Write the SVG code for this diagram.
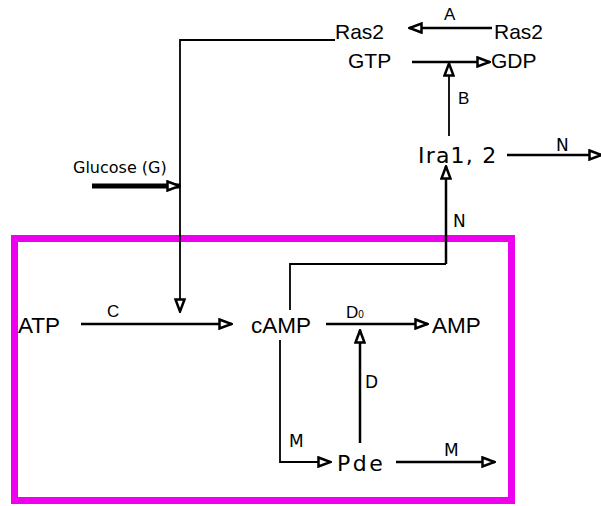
<svg xmlns="http://www.w3.org/2000/svg" width="601" height="506" viewBox="0 0 601 506">
<style>
.a{font-family:"Liberation Sans",Arial,sans-serif;fill:#000}
.d{font-family:"DejaVu Sans",sans-serif;fill:#000}
.ln{fill:none;stroke:#000;stroke-width:2.5}
.th{fill:none;stroke:#000;stroke-width:1.8}
</style>
<defs>
<marker id="h" viewBox="0 0 15 12" refX="14" refY="6" markerWidth="15" markerHeight="12" markerUnits="userSpaceOnUse" orient="auto">
<path d="M1.5,1.5 L13.5,6 L1.5,10.5 Z" fill="#fff" stroke="#000" stroke-width="2.5" stroke-linejoin="miter"/>
</marker>
</defs>
<rect x="14.5" y="238.5" width="497" height="262" fill="none" stroke="#ee00ee" stroke-width="7"/>
<g id="connectors">
<path class="ln" d="M492,28 L409,28" marker-end="url(#h)"/>
<path class="ln" d="M412,62 L490,62" marker-end="url(#h)"/>
<path class="th" d="M449,136 L449,63" marker-end="url(#h)"/>
<path class="th" d="M335,40 L180,40 L180,312" marker-end="url(#h)"/>
<path d="M92,186 L180,186" fill="none" stroke="#000" stroke-width="5" marker-end="url(#h)"/>
<path class="ln" d="M507,155 L602,155" marker-end="url(#h)"/>
<path class="ln" d="M446,264 L446,166" marker-end="url(#h)"/>
<path class="th" d="M290,310 L290,264 L446,264"/>
<path class="ln" d="M81,324 L232,324" marker-end="url(#h)"/>
<path class="ln" d="M326,324 L428,324" marker-end="url(#h)"/>
<path class="th" d="M280,340 L280,462 L331,462" marker-end="url(#h)"/>
<path class="ln" d="M360,443 L360,330" marker-end="url(#h)"/>
<path class="ln" d="M396,462 L495,462" marker-end="url(#h)"/>
</g>
<g id="labels">
<text class="a" x="444" y="20" font-size="17">A</text>
<text class="a" x="458" y="104" font-size="17">B</text>
<text class="a" x="107" y="317" font-size="17">C</text>
<text class="a" x="346" y="318" font-size="17">D<tspan font-size="10">0</tspan></text>
<text class="d" x="556" y="151" font-size="17">N</text>
<text class="d" x="453" y="227" font-size="17">N</text>
<text class="d" x="365" y="388" font-size="17">D</text>
<text class="d" x="289" y="447" font-size="17">M</text>
<text class="d" x="444" y="456" font-size="17">M</text>
</g>
<g id="ras2gtp"><text class="a" x="335" y="39" font-size="21">Ras2</text><text class="a" x="348" y="68" font-size="21">GTP</text></g>
<g id="ras2gdp"><text class="a" x="494" y="39" font-size="21">Ras2</text><text class="a" x="491" y="68" font-size="21">GDP</text></g>
<g id="glucose"><text class="d" x="73" y="173" font-size="16">Glucose (G)</text></g>
<g id="ira"><text class="d" x="418" y="163" font-size="22" letter-spacing="1.2">Ira1, 2</text></g>
<g id="atp"><text class="a" x="18" y="333" font-size="22.5">ATP</text></g>
<g id="camp"><text class="a" x="251" y="333" font-size="22.5">cAMP</text></g>
<g id="amp"><text class="a" x="432" y="333" font-size="22.5">AMP</text></g>
<g id="pde"><text class="d" x="337" y="471" font-size="22" letter-spacing="2.5">Pde</text></g>
</svg>
